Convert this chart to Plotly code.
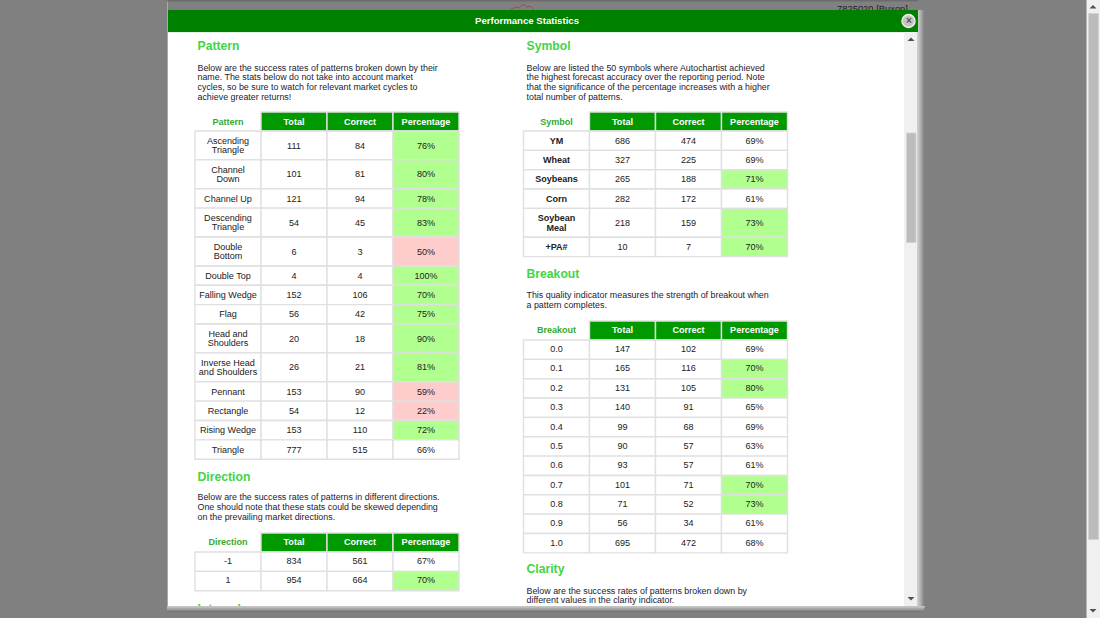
import plotly.graph_objects as go

FONT = "Liberation Sans"
COLS = ["Total", "Correct", "Percentage"]

pattern_names = ["Ascending|Triangle", "Channel|Down", "Channel Up", "Descending|Triangle", "Double|Bottom",
                 "Double Top", "Falling Wedge", "Flag", "Head and|Shoulders", "Inverse Head|and Shoulders",
                 "Pennant", "Rectangle", "Rising Wedge", "Triangle"]
pattern_total = [111, 101, 121, 54, 6, 4, 152, 56, 20, 26, 153, 54, 153, 777]
pattern_correct = [84, 81, 94, 45, 3, 4, 106, 42, 18, 21, 90, 12, 110, 515]
pattern_pct = [76, 80, 78, 83, 50, 100, 70, 75, 90, 81, 59, 22, 72, 66]

direction_names = ["-1", "1"]
direction_total = [834, 954]
direction_correct = [561, 664]
direction_pct = [67, 70]

symbol_names = ["YM", "Wheat", "Soybeans", "Corn", "Soybean|Meal", "+PA#"]
symbol_total = [686, 327, 265, 282, 218, 10]
symbol_correct = [474, 225, 188, 172, 159, 7]
symbol_pct = [69, 69, 71, 61, 73, 70]

breakout_names = ["0.0", "0.1", "0.2", "0.3", "0.4", "0.5", "0.6", "0.7", "0.8", "0.9", "1.0"]
breakout_total = [147, 165, 131, 140, 99, 90, 93, 101, 71, 56, 695]
breakout_correct = [102, 116, 105, 91, 68, 57, 57, 71, 52, 34, 472]
breakout_pct = [69, 70, 80, 65, 69, 63, 61, 70, 73, 61, 68]

pattern_text = ["Below are the success rates of patterns broken down by their",
                "name. The stats below do not take into account market",
                "cycles, so be sure to watch for relevant market cycles to",
                "achieve greater returns!"]
direction_text = ["Below are the success rates of patterns in different directions.",
                  "One should note that these stats could be skewed depending",
                  "on the prevailing market directions."]
symbol_text = ["Below are listed the 50 symbols where Autochartist achieved",
               "the highest forecast accuracy over the reporting period. Note",
               "that the significance of the percentage increases with a higher",
               "total number of patterns."]
breakout_text = ["This quality indicator measures the strength of breakout when",
                 "a pattern completes."]
clarity_text = ["Below are the success rates of patterns broken down by",
                "different values in the clarity indicator."]

GREEN_CELL, PINK_CELL = "#b0ff8f", "#ffcccc"
BORDER = "#e0e0e0"
shapes, annos, texts = [], [], {}


def rect(x0, y0, x1, y1, fill, line=None, lw=0, layer="below"):
    shapes.append(dict(type="rect", xref="x", yref="y", x0=x0, y0=y0, x1=x1, y1=y1, fillcolor=fill,
                       line=dict(color=line or fill, width=lw), layer=layer))


def text(x, y, s, size=9, color="#222222", bold=False, pos="middle center"):
    key = (size, color, bold, pos)
    t = texts.setdefault(key, ([], [], []))
    t[0].append(x); t[1].append(y + 0.8); t[2].append(f"<b>{s}</b>" if bold else s)


PARA = 8.9
CELL = 9.05
ROW1, ROW2 = 19.35, 28.9


def paragraph(x, y, lines):
    for i, s in enumerate(lines):
        text(x, y + i * 9.75, s, size=PARA, color="#222233", pos="middle right")


def table(x, y, title, names, total, correct, pct, bold_first=False, dy=0.0):
    edges = [x, x + 66, x + 132, x + 198, x + 264]
    text((edges[0] + edges[1]) / 2, y + 9.5 + dy, title, size=CELL, color="#33aa33", bold=True)
    for j, c in enumerate(COLS):
        rect(edges[j + 1], y, edges[j + 2], y + 19, "#009900", BORDER, 1.4)
        text((edges[j + 1] + edges[j + 2]) / 2, y + 9.5 + dy, c, size=CELL, color="#ffffff", bold=True)
    top = y + 19
    for n, a, b, p in zip(names, total, correct, pct):
        parts = n.split("|")
        h = ROW2 if len(parts) > 1 else ROW1
        fill = GREEN_CELL if p >= 70 else PINK_CELL if p < 60 else "#ffffff"
        for j in range(4):
            rect(edges[j], top, edges[j + 1], top + h, fill if j == 3 else "#ffffff", BORDER, 1.4)
        mid = top + h / 2 + dy
        for i, s in enumerate(parts):
            text((edges[0] + edges[1]) / 2, mid + (i - (len(parts) - 1) / 2) * 9.6, s, size=CELL,
                 bold=bold_first)
        text((edges[1] + edges[2]) / 2, mid, str(a), size=CELL)
        text((edges[2] + edges[3]) / 2, mid, str(b), size=CELL)
        text((edges[3] + edges[4]) / 2, mid, f"{p}%", size=CELL)
        top += h


# page behind the dialog
rect(0, 0, 1100, 618, "#808080")
rect(168, 0, 918, 1.5, "#6c6c6c")
rect(168, 10, 917, 606, "#ffffff")

# behind-dialog fragments, clipped by the header
text(872.5, 8.6, "7825020 [Buxon]", size=9.4, color="#222222")
shapes.append(dict(type="path", xref="x", yref="y", layer="below",
                   path="M510 10 L516 7 L519 8 L523 4 L527 7 L530 6 L534 9",
                   line=dict(color="#8a5a50", width=1)))

# dialog shadows
for i, c in enumerate(["#cfcfcf", "#c6c6c6", "#bcbcbc", "#b0b0b0", "#a4a4a4", "#969696", "#8a8a8a"]):
    rect(917 + i, 10, 918 + i, 612 - i * 0.2, c)
rect(167, 2, 168, 610, "#a8a8a8")

# dialog scrollbar
rect(904, 32, 917, 606, "#f0f0f0")
rect(906.5, 133, 916, 242.5, "#bcbcbc", "#d4d4d4", 1)
# window scrollbar
rect(1086.5, 0, 1100, 618, "#f0f0f0")
rect(1088.5, 13.5, 1098.5, 539.5, "#bcbcbc", "#d4d4d4", 1)
for (cx, cy, d) in [(911, 39.5, -1), (911, 598.5, 1), (1093, 7, -1), (1093, 610.5, 1)]:
    shapes.append(dict(type="path", xref="x", yref="y", layer="below", fillcolor="#505050",
                       line=dict(width=0),
                       path=f"M{cx-3.5} {cy-1.5*d} L{cx+3.5} {cy-1.5*d} L{cx} {cy+2*d} Z"))

# header band and bottom edge drawn above the clipped text
rect(168, 10, 918, 32, "#008000", layer="above")
rect(168, 32, 904, 32.7, "#d8eed8", layer="above")
for i, c in enumerate(["#c4c4c4", "#bbbbbb", "#acacac", "#9c9c9c", "#8c8c8c", "#767676"]):
    rect(167, 606 + i, 925 - i * 0.5, 607 + i, c, layer="above")
rect(167, 612, 904, 618, "#808080", layer="above")
annos.append(dict(x=527, y=20.7, xref="x", yref="y", text="<b>Performance Statistics</b>", showarrow=False,
                  font=dict(family=FONT, size=9.6, color="#ffffff")))
shapes.append(dict(type="circle", xref="x", yref="y", x0=902, y0=14.5, x1=915, y1=27.5,
                   fillcolor="#c4c4c4", line=dict(color="#f2f2f2", width=1.4), layer="above"))
annos.append(dict(x=908.5, y=20.6, xref="x", yref="y", text="<b>×</b>", showarrow=False,
                  font=dict(family=FONT, size=10, color="#555555")))

# content
HEAD = 12.2
HC = "#44d444"
text(197.5, 46.6, "Pattern", size=HEAD, color=HC, bold=True, pos="middle right")
paragraph(197.5, 67.5, pattern_text)
table(195, 112, "Pattern", pattern_names, pattern_total, pattern_correct, pattern_pct)

text(197.5, 477.2, "Direction", size=HEAD, color=HC, bold=True, pos="middle right")
paragraph(197.5, 497.2, direction_text)
table(195, 533, "Direction", direction_names, direction_total, direction_correct, direction_pct, dy=-0.6)
text(197.5, 609, "Interval", size=HEAD, color=HC, bold=True, pos="middle right")

text(526.5, 46.6, "Symbol", size=HEAD, color=HC, bold=True, pos="middle right")
paragraph(526.5, 67.5, symbol_text)
table(523.5, 112, "Symbol", symbol_names, symbol_total, symbol_correct, symbol_pct, bold_first=True)

text(526.5, 274.6, "Breakout", size=HEAD, color=HC, bold=True, pos="middle right")
paragraph(526.5, 295, breakout_text)
table(523.5, 321, "Breakout", breakout_names, breakout_total, breakout_correct, breakout_pct, dy=-0.6)

text(526.5, 569.6, "Clarity", size=HEAD, color=HC, bold=True, pos="middle right")
paragraph(526.5, 590.5, clarity_text)

fig = go.Figure()
for (size, color, bold, pos), (xs, ys, ss) in texts.items():
    fig.add_trace(go.Scatter(x=xs, y=ys, text=ss, mode="text", textposition=pos, hoverinfo="skip",
                             textfont=dict(family=FONT, size=size, color=color), cliponaxis=True))

fig.update_layout(width=1100, height=618, margin=dict(l=0, r=0, t=0, b=0), showlegend=False,
                  paper_bgcolor="#808080", plot_bgcolor="#808080", shapes=shapes, annotations=annos,
                  xaxis=dict(range=[0, 1100], visible=False, fixedrange=True),
                  yaxis=dict(range=[618, 0], visible=False, fixedrange=True))
fig.write_html("out.html", config=dict(displayModeBar=False),
               post_script="document.body.style.margin='0';document.body.style.overflow='hidden';")
